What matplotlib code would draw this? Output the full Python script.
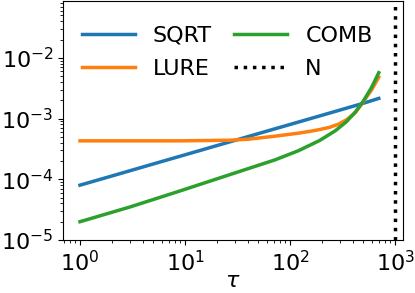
import numpy as np
from matplotlib import pyplot as plt

# values
tau_sqrt = [1, 2, 5, 10, 20, 50, 100, 200, 500, 700]
err_sqrt = [8.0e-5, 1.13e-4, 1.79e-4, 2.53e-4, 3.58e-4, 5.66e-4, 8.0e-4, 1.13e-3, 1.79e-3, 2.15e-3]

tau_lure = [1, 9, 27, 40, 72, 120, 155, 192, 239, 290, 345, 420, 495, 600, 700]
err_lure = [4.3e-4, 4.3e-4, 4.4e-4, 4.57e-4, 5.13e-4, 5.75e-4, 6.17e-4, 6.6e-4, 7.2e-4,
            8.1e-4, 9.55e-4, 1.26e-3, 1.86e-3, 3.0e-3, 4.8e-3]

tau_comb = [1, 3, 9, 27, 72, 120, 192, 270, 345, 420, 495, 600, 700]
err_comb = [2.0e-5, 3.5e-5, 6.44e-5, 1.2e-4, 2.09e-4, 2.95e-4, 4.37e-4, 6.3e-4,
            8.9e-4, 1.29e-3, 1.9e-3, 3.3e-3, 5.7e-3]

N = 1000

fig = plt.figure(figsize=(4.15, 2.93), dpi=100)
ax = fig.add_axes([0.152, 0.181, 0.819, 0.816])

ax.plot(tau_sqrt, err_sqrt, color='tab:blue', lw=2.5, label='SQRT')
ax.plot(tau_lure, err_lure, color='tab:orange', lw=2.5, label='LURE')
ax.plot(tau_comb, err_comb, color='tab:green', lw=2.5, label='COMB')
ax.axvline(N, color='k', ls=':', lw=2.5, label='N')

ax.set_xscale('log')
ax.set_yscale('log')
ax.set_xlim(0.69, 1190)
ax.set_ylim(1e-5, 0.087)
ax.tick_params(labelsize=16)
ax.set_xlabel(r'$\tau$', fontsize=16, labelpad=-3)

ax.legend(loc='upper left', bbox_to_anchor=(0.009, 0.962), ncol=2, frameon=False,
          fontsize=16, handlelength=2.4, columnspacing=1.0, labelspacing=0.6,
          borderaxespad=0.3)

fig.savefig('out.png', dpi=100)
